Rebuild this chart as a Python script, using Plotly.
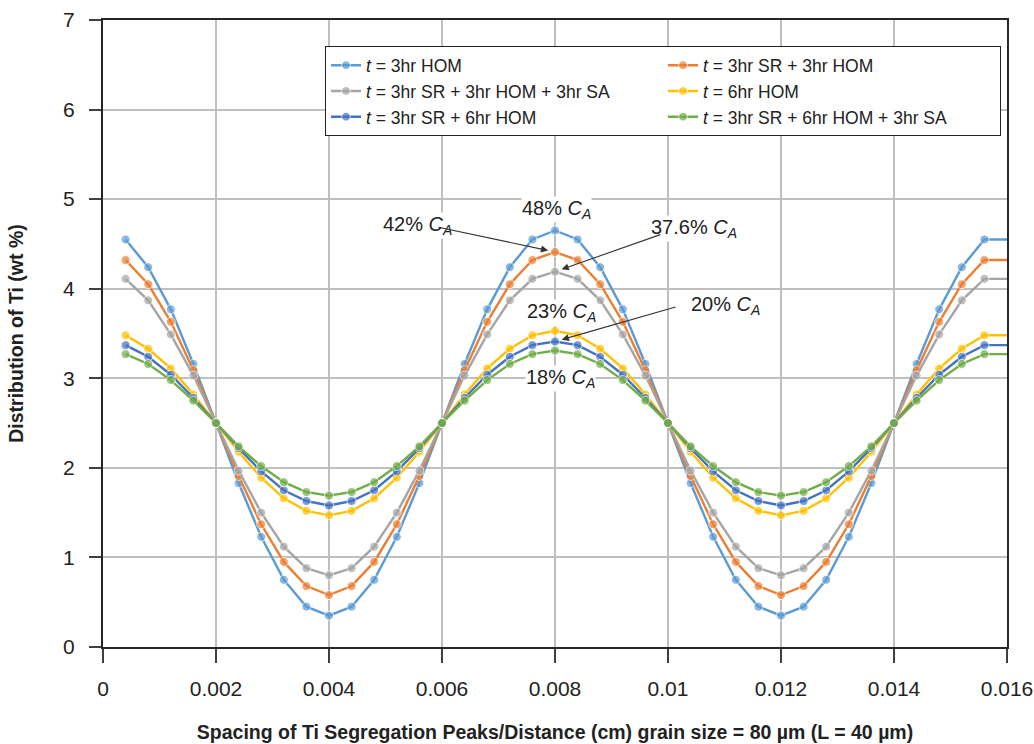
import plotly.graph_objects as go

# Distance along the sample (cm)
x_cm = [0.0004, 0.0008, 0.0012, 0.0016, 0.0020, 0.0024, 0.0028, 0.0032, 0.0036, 0.0040,
        0.0044, 0.0048, 0.0052, 0.0056, 0.0060, 0.0064, 0.0068, 0.0072, 0.0076, 0.0080,
        0.0084, 0.0088, 0.0092, 0.0096, 0.0100, 0.0104, 0.0108, 0.0112, 0.0116, 0.0120,
        0.0124, 0.0128, 0.0132, 0.0136, 0.0140, 0.0144, 0.0148, 0.0152, 0.0156, 0.0160]

# Ti distribution (wt %) for each heat treatment
ti_3hr_hom = [4.55, 4.24, 3.77, 3.16, 2.50, 1.83, 1.23, 0.75, 0.45, 0.35,
              0.45, 0.75, 1.23, 1.83, 2.50, 3.16, 3.77, 4.24, 4.55, 4.65,
              4.55, 4.24, 3.77, 3.16, 2.50, 1.83, 1.23, 0.75, 0.45, 0.35,
              0.45, 0.75, 1.23, 1.83, 2.50, 3.16, 3.77, 4.24, 4.55, 4.55]
ti_3sr_3hom = [4.32, 4.05, 3.63, 3.09, 2.50, 1.91, 1.37, 0.95, 0.68, 0.58,
               0.68, 0.95, 1.37, 1.91, 2.50, 3.09, 3.63, 4.05, 4.32, 4.41,
               4.32, 4.05, 3.63, 3.09, 2.50, 1.91, 1.37, 0.95, 0.68, 0.58,
               0.68, 0.95, 1.37, 1.91, 2.50, 3.09, 3.63, 4.05, 4.32, 4.32]
ti_3sr_3hom_3sa = [4.11, 3.87, 3.49, 3.03, 2.50, 1.97, 1.50, 1.12, 0.88, 0.80,
                   0.88, 1.12, 1.50, 1.97, 2.50, 3.03, 3.49, 3.87, 4.11, 4.19,
                   4.11, 3.87, 3.49, 3.03, 2.50, 1.97, 1.50, 1.12, 0.88, 0.80,
                   0.88, 1.12, 1.50, 1.97, 2.50, 3.03, 3.49, 3.87, 4.11, 4.11]
ti_6hr_hom = [3.48, 3.33, 3.11, 2.82, 2.50, 2.18, 1.89, 1.66, 1.52, 1.47,
              1.52, 1.66, 1.89, 2.18, 2.50, 2.82, 3.11, 3.33, 3.48, 3.53,
              3.48, 3.33, 3.11, 2.82, 2.50, 2.18, 1.89, 1.66, 1.52, 1.47,
              1.52, 1.66, 1.89, 2.18, 2.50, 2.82, 3.11, 3.33, 3.48, 3.48]
ti_3sr_6hom = [3.37, 3.24, 3.04, 2.78, 2.50, 2.22, 1.96, 1.75, 1.63, 1.58,
               1.63, 1.75, 1.96, 2.22, 2.50, 2.78, 3.04, 3.24, 3.37, 3.41,
               3.37, 3.24, 3.04, 2.78, 2.50, 2.22, 1.96, 1.75, 1.63, 1.58,
               1.63, 1.75, 1.96, 2.22, 2.50, 2.78, 3.04, 3.24, 3.37, 3.37]
ti_3sr_6hom_3sa = [3.27, 3.16, 2.98, 2.75, 2.50, 2.24, 2.02, 1.84, 1.73, 1.69,
                   1.73, 1.84, 2.02, 2.24, 2.50, 2.75, 2.98, 3.16, 3.27, 3.31,
                   3.27, 3.16, 2.98, 2.75, 2.50, 2.24, 2.02, 1.84, 1.73, 1.69,
                   1.73, 1.84, 2.02, 2.24, 2.50, 2.75, 2.98, 3.16, 3.27, 3.27]

series_names = ["<i>t</i> = 3hr HOM",
                "<i>t</i> = 3hr SR + 3hr HOM",
                "<i>t</i> = 3hr SR + 3hr HOM + 3hr SA",
                "<i>t</i> = 6hr HOM",
                "<i>t</i> = 3hr SR + 6hr HOM",
                "<i>t</i> = 3hr SR + 6hr HOM + 3hr SA"]
series_values = [ti_3hr_hom, ti_3sr_3hom, ti_3sr_3hom_3sa,
                 ti_6hr_hom, ti_3sr_6hom, ti_3sr_6hom_3sa]
series_colors = ["#5B9BD5", "#ED7D31", "#A5A5A5", "#FFC000", "#4472C4", "#70AD47"]

x_tick_vals = [0, 0.002, 0.004, 0.006, 0.008, 0.01, 0.012, 0.014, 0.016]
x_tick_text = ["0", "0.002", "0.004", "0.006", "0.008", "0.01", "0.012", "0.014", "0.016"]

# Peak labels: (text, x, y)
peak_labels = [("48% <i>C</i><sub><i>A</i></sub>", 0.00802, 4.89),
               ("42% <i>C</i><sub><i>A</i></sub>", 0.00557, 4.71),
               ("37.6% <i>C</i><sub><i>A</i></sub>", 0.01046, 4.67),
               ("23% <i>C</i><sub><i>A</i></sub>", 0.00812, 3.73),
               ("20% <i>C</i><sub><i>A</i></sub>", 0.01101, 3.81),
               ("18% <i>C</i><sub><i>A</i></sub>", 0.00809, 3.00)]
# Pointer arrows: (head x, head y, tail x, tail y)
peak_arrows = [(0.008, 4.41, 0.00591, 4.69),
               (0.008, 4.19, 0.00989, 4.61),
               (0.008, 3.41, 0.01016, 3.80)]

FONT = "Liberation Sans, Arial, sans-serif"

# last point closes the line at the right border without a marker
marker_sizes = [9] * (len(x_cm) - 1) + [0]

fig = go.Figure()
for name, vals, color in zip(series_names, series_values, series_colors):
    fig.add_trace(go.Scatter(
        x=x_cm, y=vals, name=name, mode="lines+markers",
        line=dict(color=color, width=2.4),
        marker=dict(color=color, size=marker_sizes),
    ))

annotations = []
for text, ax_, ay_ in peak_labels:
    annotations.append(dict(
        x=ax_, y=ay_, xref="x", yref="y", text=text, showarrow=False,
        font=dict(family=FONT, size=20, color="#222222"),
        bgcolor="white", borderpad=0,
    ))
for hx, hy, tx, ty in peak_arrows:
    annotations.append(dict(
        x=hx, y=hy, ax=tx, ay=ty, xref="x", yref="y", axref="x", ayref="y",
        text="", showarrow=True, arrowhead=2, arrowsize=1.3, arrowwidth=1.1,
        arrowcolor="#333333", standoff=7,
    ))

axis_common = dict(
    showgrid=True, gridcolor="#BFBFBF", gridwidth=1.5,
    showline=True, linecolor="#262626", linewidth=2, mirror=True,
    ticks="outside", tickcolor="#404040", tickwidth=1.5,
    zeroline=False, automargin=False,
    tickfont=dict(family=FONT, size=21, color="#222222"),
)

fig.update_layout(
    width=1034, height=744,
    margin=dict(l=103, r=27, t=20, b=97),
    paper_bgcolor="white", plot_bgcolor="white",
    font=dict(family=FONT, color="#222222"),
    xaxis=dict(
        range=[0, 0.016], tickvals=x_tick_vals, ticktext=x_tick_text,
        ticklen=14, ticklabelstandoff=8,
        title=dict(text="<b>Spacing of Ti Segregation Peaks/Distance (cm) grain size = 80 µm (L = 40 µm)</b>",
                   font=dict(family=FONT, size=19.5, color="#222222"), standoff=26),
        **axis_common,
    ),
    yaxis=dict(
        range=[0, 7], dtick=1, ticklen=12, ticklabelstandoff=10,
        title=dict(text="<b>Distribution of Ti (wt %)</b>",
                   font=dict(family=FONT, size=19.5, color="#222222"), standoff=34),
        **axis_common,
    ),
    legend=dict(
        orientation="h", x=0.2456, y=0.958, xanchor="left", yanchor="top",
        entrywidth=292, entrywidthmode="pixels", itemwidth=30,
        bgcolor="white", bordercolor="#222222", borderwidth=1,
        font=dict(family=FONT, size=17.5, color="#222222"),
        tracegroupgap=0,
    ),
    annotations=annotations,
    showlegend=True,
)

fig.write_html("out.html")
